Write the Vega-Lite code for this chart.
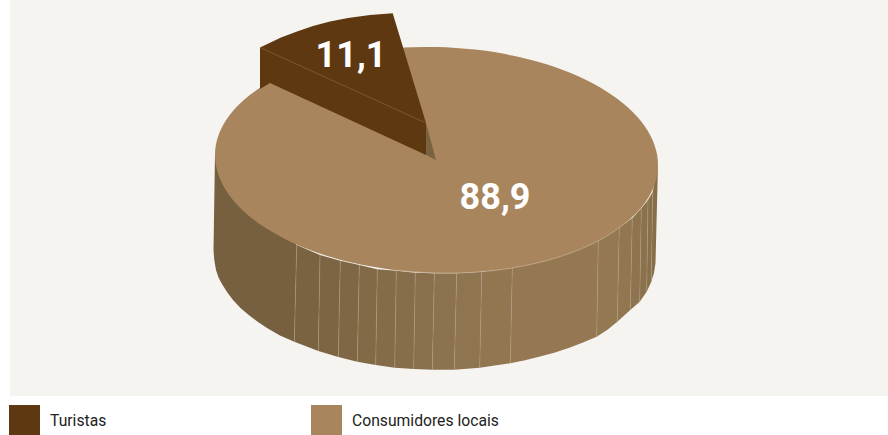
{
  "$schema": "https://vega.github.io/schema/vega-lite/v6.json",
  "width": 878,
  "height": 396,
  "autosize": "none",
  "padding": {"left": 10, "top": 0, "right": 0, "bottom": 39},
  "background": "#ffffff",
  "view": {"fill": "#f6f4f0", "stroke": null},
  "config": {
    "locale": {"number": {"decimal": ",", "thousands": ".", "grouping": [3], "currency": ["", " €"]}}
  },
  "datasets": {
    "slices": [
      {"slice": "Turistas", "value": 11.1, "x": -85, "y": 104},
      {"slice": "Consumidores locais", "value": 88.9, "x": 59, "y": -38}
    ],
    "face": [
      {"slice": "Consumidores locais", "angle": 0, "x": 222, "y": -5},
      {"slice": "Consumidores locais", "angle": 10, "x": 218.6, "y": 14.7},
      {"slice": "Consumidores locais", "angle": 20, "x": 208.6, "y": 33.9},
      {"slice": "Consumidores locais", "angle": 30, "x": 192.3, "y": 52.2},
      {"slice": "Consumidores locais", "angle": 40, "x": 170.2, "y": 68.8},
      {"slice": "Consumidores locais", "angle": 50, "x": 142.9, "y": 83.4},
      {"slice": "Consumidores locais", "angle": 60, "x": 111.3, "y": 95.4},
      {"slice": "Consumidores locais", "angle": 70, "x": 76.3, "y": 104.5},
      {"slice": "Consumidores locais", "angle": 80, "x": 39, "y": 110.4},
      {"slice": "Consumidores locais", "angle": 90, "x": 0.5, "y": 113},
      {"slice": "Consumidores locais", "angle": 100, "x": -38, "y": 112.2},
      {"slice": "Consumidores locais", "angle": 110, "x": -75.3, "y": 107.9},
      {"slice": "Consumidores locais", "angle": 120, "x": -110.3, "y": 100.4},
      {"slice": "Consumidores locais", "angle": 130, "x": -141.9, "y": 89.8},
      {"slice": "Consumidores locais", "angle": 140, "x": -169.2, "y": 76.4},
      {"slice": "Consumidores locais", "angle": 150, "x": -191.3, "y": 60.8},
      {"slice": "Consumidores locais", "angle": 160, "x": -207.6, "y": 43.3},
      {"slice": "Consumidores locais", "angle": 170, "x": -217.6, "y": 24.5},
      {"slice": "Consumidores locais", "angle": 180, "x": -221, "y": 5},
      {"slice": "Consumidores locais", "angle": 190, "x": -217.6, "y": -14.7},
      {"slice": "Consumidores locais", "angle": 200, "x": -207.6, "y": -33.9},
      {"slice": "Consumidores locais", "angle": 210, "x": -191.3, "y": -52.2},
      {"slice": "Consumidores locais", "angle": 220, "x": -169.2, "y": -68.8},
      {"slice": "Consumidores locais", "angle": 230, "x": -141.9, "y": -83.4},
      {"slice": "Consumidores locais", "angle": 240, "x": -110.3, "y": -95.4},
      {"slice": "Consumidores locais", "angle": 250, "x": -75.3, "y": -104.5},
      {"slice": "Consumidores locais", "angle": 260, "x": -38, "y": -110.4},
      {"slice": "Consumidores locais", "angle": 270, "x": 0.5, "y": -113},
      {"slice": "Consumidores locais", "angle": 280, "x": 39, "y": -112.2},
      {"slice": "Consumidores locais", "angle": 290, "x": 76.3, "y": -107.9},
      {"slice": "Consumidores locais", "angle": 300, "x": 111.3, "y": -100.4},
      {"slice": "Consumidores locais", "angle": 310, "x": 142.9, "y": -89.8},
      {"slice": "Consumidores locais", "angle": 320, "x": 170.2, "y": -76.4},
      {"slice": "Consumidores locais", "angle": 330, "x": 192.3, "y": -60.8},
      {"slice": "Consumidores locais", "angle": 340, "x": 208.6, "y": -43.3},
      {"slice": "Consumidores locais", "angle": 350, "x": 218.6, "y": -24.5}
    ],
    "wedge": [
      {"slice": "Turistas", "step": 1, "x": -176, "y": 112.5},
      {"slice": "Turistas", "step": 2, "x": -155, "y": 122.5},
      {"slice": "Turistas", "step": 3, "x": -139, "y": 128.5},
      {"slice": "Turistas", "step": 4, "x": -123, "y": 134},
      {"slice": "Turistas", "step": 5, "x": -106, "y": 138.5},
      {"slice": "Turistas", "step": 6, "x": -88, "y": 142},
      {"slice": "Turistas", "step": 7, "x": -66, "y": 145},
      {"slice": "Turistas", "step": 8, "x": -43.3, "y": 146.7},
      {"slice": "Turistas", "step": 9, "x": -10, "y": 37},
      {"slice": "Turistas", "step": 10, "x": -10, "y": 5},
      {"slice": "Turistas", "step": 11, "x": -166, "y": 77},
      {"slice": "Turistas", "step": 12, "x": -176, "y": 71}
    ],
    "notch": [
      {"step": 1, "x": -10, "y": 37},
      {"step": 2, "x": 0, "y": 0},
      {"step": 3, "x": -10, "y": 5}
    ],
    "wedgeEdge": [
      {"step": 1, "x": -176, "y": 112.5},
      {"step": 2, "x": -10, "y": 37}
    ],
    "wall": [
      {"strip": 1, "step": 1, "x": -221, "y": 5},
      {"strip": 1, "step": 2, "x": -139.3, "y": -85},
      {"strip": 1, "step": 3, "x": -141.7, "y": -181.7},
      {"strip": 1, "step": 4, "x": -156, "y": -175.5},
      {"strip": 1, "step": 5, "x": -169, "y": -168},
      {"strip": 1, "step": 6, "x": -178, "y": -162},
      {"strip": 1, "step": 7, "x": -186, "y": -156},
      {"strip": 1, "step": 8, "x": -195, "y": -148.5},
      {"strip": 1, "step": 9, "x": -203, "y": -140},
      {"strip": 1, "step": 10, "x": -209, "y": -132},
      {"strip": 1, "step": 11, "x": -214, "y": -124},
      {"strip": 1, "step": 12, "x": -217.5, "y": -117.5},
      {"strip": 1, "step": 13, "x": -220, "y": -110},
      {"strip": 1, "step": 14, "x": -221.7, "y": -100},
      {"strip": 1, "step": 15, "x": -222.5, "y": -90},
      {"strip": 2, "step": 1, "x": -139.3, "y": -85},
      {"strip": 2, "step": 2, "x": -116, "y": -95},
      {"strip": 2, "step": 3, "x": -117.7, "y": -191},
      {"strip": 2, "step": 4, "x": -141.7, "y": -181.7},
      {"strip": 3, "step": 1, "x": -116, "y": -95},
      {"strip": 3, "step": 2, "x": -95.7, "y": -100.7},
      {"strip": 3, "step": 3, "x": -97.7, "y": -197},
      {"strip": 3, "step": 4, "x": -117.7, "y": -191},
      {"strip": 4, "step": 1, "x": -95.7, "y": -100.7},
      {"strip": 4, "step": 2, "x": -76.7, "y": -105},
      {"strip": 4, "step": 3, "x": -78.7, "y": -201.7},
      {"strip": 4, "step": 4, "x": -97.7, "y": -197},
      {"strip": 5, "step": 1, "x": -76.7, "y": -105},
      {"strip": 5, "step": 2, "x": -58.7, "y": -109.3},
      {"strip": 5, "step": 3, "x": -60.3, "y": -205},
      {"strip": 5, "step": 4, "x": -78.7, "y": -201.7},
      {"strip": 6, "step": 1, "x": -58.7, "y": -109.3},
      {"strip": 6, "step": 2, "x": -39.7, "y": -110.7},
      {"strip": 6, "step": 3, "x": -41.3, "y": -207.7},
      {"strip": 6, "step": 4, "x": -60.3, "y": -205},
      {"strip": 7, "step": 1, "x": -39.7, "y": -110.7},
      {"strip": 7, "step": 2, "x": -20.7, "y": -112.7},
      {"strip": 7, "step": 3, "x": -22.3, "y": -209},
      {"strip": 7, "step": 4, "x": -41.3, "y": -207.7},
      {"strip": 8, "step": 1, "x": -20.7, "y": -112.7},
      {"strip": 8, "step": 2, "x": -1.7, "y": -113.3},
      {"strip": 8, "step": 3, "x": -3.7, "y": -209.7},
      {"strip": 8, "step": 4, "x": -22.3, "y": -209},
      {"strip": 9, "step": 1, "x": -1.7, "y": -113.3},
      {"strip": 9, "step": 2, "x": 20.7, "y": -113.3},
      {"strip": 9, "step": 3, "x": 18.3, "y": -209.7},
      {"strip": 9, "step": 4, "x": -3.7, "y": -209.7},
      {"strip": 10, "step": 1, "x": 20.7, "y": -113.3},
      {"strip": 10, "step": 2, "x": 45.7, "y": -111.7},
      {"strip": 10, "step": 3, "x": 43.7, "y": -207.7},
      {"strip": 10, "step": 4, "x": 18.3, "y": -209.7},
      {"strip": 11, "step": 1, "x": 45.7, "y": -111.7},
      {"strip": 11, "step": 2, "x": 76.3, "y": -107.7},
      {"strip": 11, "step": 3, "x": 74.3, "y": -203.3},
      {"strip": 11, "step": 4, "x": 43.7, "y": -207.7},
      {"strip": 12, "step": 1, "x": 76.3, "y": -107.7},
      {"strip": 12, "step": 2, "x": 162.3, "y": -80},
      {"strip": 12, "step": 3, "x": 160.7, "y": -176.7},
      {"strip": 12, "step": 4, "x": 147, "y": -182.5},
      {"strip": 12, "step": 5, "x": 134, "y": -187.5},
      {"strip": 12, "step": 6, "x": 119, "y": -192.5},
      {"strip": 12, "step": 7, "x": 104, "y": -196.5},
      {"strip": 12, "step": 8, "x": 89, "y": -200.2},
      {"strip": 12, "step": 9, "x": 74.3, "y": -203.3},
      {"strip": 13, "step": 1, "x": 162.3, "y": -80},
      {"strip": 13, "step": 2, "x": 183.3, "y": -67.3},
      {"strip": 13, "step": 3, "x": 181.3, "y": -161.7},
      {"strip": 13, "step": 4, "x": 171.5, "y": -169.7},
      {"strip": 13, "step": 5, "x": 160.7, "y": -176.7},
      {"strip": 14, "step": 1, "x": 183.3, "y": -67.3},
      {"strip": 14, "step": 2, "x": 196.3, "y": -58.3},
      {"strip": 14, "step": 3, "x": 194.3, "y": -150},
      {"strip": 14, "step": 4, "x": 181.3, "y": -161.7},
      {"strip": 15, "step": 1, "x": 196.3, "y": -58.3},
      {"strip": 15, "step": 2, "x": 205.3, "y": -48.3},
      {"strip": 15, "step": 3, "x": 203.7, "y": -141.7},
      {"strip": 15, "step": 4, "x": 194.3, "y": -150},
      {"strip": 16, "step": 1, "x": 205.3, "y": -48.3},
      {"strip": 16, "step": 2, "x": 212, "y": -40},
      {"strip": 16, "step": 3, "x": 210.7, "y": -131.7},
      {"strip": 16, "step": 4, "x": 203.7, "y": -141.7},
      {"strip": 17, "step": 1, "x": 212, "y": -40},
      {"strip": 17, "step": 2, "x": 216.7, "y": -31.7},
      {"strip": 17, "step": 3, "x": 215.3, "y": -121.7},
      {"strip": 17, "step": 4, "x": 210.7, "y": -131.7},
      {"strip": 18, "step": 1, "x": 216.7, "y": -31.7},
      {"strip": 18, "step": 2, "x": 222, "y": -5},
      {"strip": 18, "step": 3, "x": 219.5, "y": -103},
      {"strip": 18, "step": 4, "x": 218, "y": -113},
      {"strip": 18, "step": 5, "x": 215.3, "y": -121.7}
    ],
    "seams": [
      {"seam": 1, "x": -139.3, "y": -85}, {"seam": 1, "x": -141.7, "y": -181.7},
      {"seam": 2, "x": -116, "y": -95}, {"seam": 2, "x": -117.7, "y": -191},
      {"seam": 3, "x": -95.7, "y": -100.7}, {"seam": 3, "x": -97.7, "y": -197},
      {"seam": 4, "x": -76.7, "y": -105}, {"seam": 4, "x": -78.7, "y": -201.7},
      {"seam": 5, "x": -58.7, "y": -109.3}, {"seam": 5, "x": -60.3, "y": -205},
      {"seam": 6, "x": -39.7, "y": -110.7}, {"seam": 6, "x": -41.3, "y": -207.7},
      {"seam": 7, "x": -20.7, "y": -112.7}, {"seam": 7, "x": -22.3, "y": -209},
      {"seam": 8, "x": -1.7, "y": -113.3}, {"seam": 8, "x": -3.7, "y": -209.7},
      {"seam": 9, "x": 20.7, "y": -113.3}, {"seam": 9, "x": 18.3, "y": -209.7},
      {"seam": 10, "x": 45.7, "y": -111.7}, {"seam": 10, "x": 43.7, "y": -207.7},
      {"seam": 11, "x": 76.3, "y": -107.7}, {"seam": 11, "x": 74.3, "y": -203.3},
      {"seam": 12, "x": 162.3, "y": -80}, {"seam": 12, "x": 160.7, "y": -176.7},
      {"seam": 13, "x": 183.3, "y": -67.3}, {"seam": 13, "x": 181.3, "y": -161.7},
      {"seam": 14, "x": 196.3, "y": -58.3}, {"seam": 14, "x": 194.3, "y": -150},
      {"seam": 15, "x": 205.3, "y": -48.3}, {"seam": 15, "x": 203.7, "y": -141.7},
      {"seam": 16, "x": 212, "y": -40}, {"seam": 16, "x": 210.7, "y": -131.7},
      {"seam": 17, "x": 216.7, "y": -31.7}, {"seam": 17, "x": 215.3, "y": -121.7}
    ]
  },
  "encoding": {
    "x": {"field": "x", "type": "quantitative", "axis": null, "scale": {"domain": [-426, 452], "nice": false, "zero": false}},
    "y": {"field": "y", "type": "quantitative", "axis": null, "scale": {"domain": [-236, 160], "nice": false, "zero": false}}
  },
  "layer": [
    {
      "data": {"name": "wall"},
      "mark": {"type": "line", "filled": true, "interpolate": "linear-closed"},
      "encoding": {
        "order": {"field": "step", "type": "quantitative"},
        "color": {
          "field": "strip",
          "type": "ordinal",
          "legend": null,
          "scale": {
            "domain": [1, 2, 3, 4, 5, 6, 7, 8, 9, 10, 11, 12, 13, 14, 15, 16, 17, 18],
            "range": ["#766040", "#7a6341", "#7d6543", "#7f6745", "#826a47", "#856c49", "#876e4b", "#89704c", "#8c724e", "#8e744f", "#917650", "#957851", "#947851", "#91764f", "#8e744e", "#8b724c", "#88704a", "#866e49"]
          }
        }
      }
    },
    {
      "data": {"name": "seams"},
      "mark": {"type": "line", "color": "#b3a38b", "strokeWidth": 0.5, "opacity": 0.8},
      "encoding": {"detail": {"field": "seam", "type": "nominal"}}
    },
    {
      "data": {"name": "face"},
      "mark": {"type": "line", "filled": true, "interpolate": "cardinal-closed"},
      "encoding": {
        "order": {"field": "angle", "type": "quantitative"},
        "color": {
          "field": "slice",
          "type": "nominal",
          "scale": {"domain": ["Turistas", "Consumidores locais"], "range": ["#5e3810", "#a8855c"]},
          "legend": null
        }
      }
    },
    {
      "data": {"name": "face"},
      "transform": [{"filter": "datum.angle >= 260 && datum.angle <= 330"}],
      "mark": {"type": "line", "interpolate": "cardinal", "color": "#cdbda6", "strokeWidth": 0.6},
      "encoding": {"order": {"field": "angle", "type": "quantitative"}}
    },
    {
      "data": {"name": "notch"},
      "mark": {"type": "line", "filled": true, "interpolate": "linear-closed", "color": "#7a6240"},
      "encoding": {"order": {"field": "step", "type": "quantitative"}}
    },
    {
      "data": {"name": "wedge"},
      "mark": {"type": "line", "filled": true, "interpolate": "linear-closed"},
      "encoding": {
        "order": {"field": "step", "type": "quantitative"},
        "color": {
          "field": "slice",
          "type": "nominal",
          "scale": {"domain": ["Turistas", "Consumidores locais"], "range": ["#5e3810", "#a8855c"]},
          "legend": {
            "orient": "none",
            "legendX": -1,
            "legendY": 405,
            "direction": "horizontal",
            "columns": 2,
            "columnPadding": 204,
            "title": null,
            "padding": 0,
            "symbolType": "square",
            "symbolSize": 961,
            "symbolStrokeWidth": 0,
            "symbolOpacity": 1,
            "labelFont": "Roboto",
            "labelFontSize": 15.7,
            "labelColor": "#222222",
            "labelOffset": 10,
            "labelLimit": 300
          }
        }
      }
    },
    {
      "data": {"name": "wedgeEdge"},
      "mark": {"type": "line", "color": "#8c6b42", "strokeWidth": 0.6},
      "encoding": {"order": {"field": "step", "type": "quantitative"}}
    },
    {
      "data": {"name": "slices"},
      "mark": {"type": "text", "font": "Roboto", "fontWeight": "bold", "fontSize": 36, "color": "#ffffff", "align": "center", "baseline": "middle"},
      "encoding": {"text": {"field": "value", "type": "quantitative", "format": ".1f"}}
    }
  ],
  "resolve": {"scale": {"color": "independent"}}
}
